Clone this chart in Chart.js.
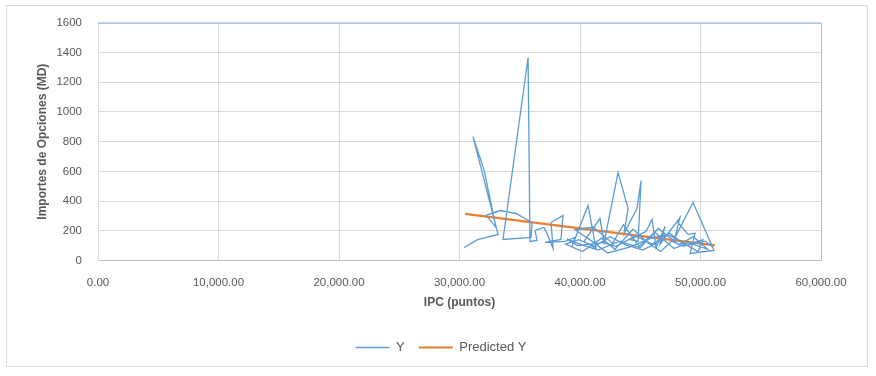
<!DOCTYPE html>
<html>
<head>
<meta charset="utf-8">
<script src="https://cdn.jsdelivr.net/npm/chart.js@4"></script>
<style>
  html, body { margin: 0; padding: 0; background: #fff; }
  #wrap { position: relative; width: 876px; height: 376px; }
  #frame { position: absolute; left: 6px; top: 5px; width: 862px; height: 362px; border: 1px solid #d9d9d9; box-sizing: border-box; }
  canvas { position: absolute; left: 0; top: 0; }
</style>
</head>
<body>
<div id="wrap">
  <div id="frame"></div>
  <canvas id="chart" width="876" height="376"></canvas>
</div>
<script>
// IPC (puntos) vs Importes de Opciones (MD), in data order
const ipcValues = [
  30380, 31500, 33200, 31120, 32030, 33030, 32200, 33360, 34690, 36020,
  35930, 33610, 35690, 35850, 36430, 36270, 37010, 37260, 37760, 37600,
  38590, 38420, 37100, 38760, 39590, 39340, 40670, 41330, 40330, 41660,
  42000, 43160, 43990, 43650, 44730, 45070, 44820, 44150, 45480, 45980,
  46310, 47060, 46640, 48300, 47890, 49380, 51120, 49130, 49550, 48970,
  48050, 46900, 45200, 43800, 42500, 41200, 39900, 38800, 40200, 41800,
  42900, 44400, 45600, 46700, 47600, 48600, 50200, 49800, 47300, 45900,
  44100, 42300, 40900, 39600, 41100, 42700, 43600, 44900, 46200, 47800,
  49000, 50600, 49400, 48200, 46500, 45000, 43300, 41500, 40000, 38900,
  39800, 41900, 43000, 44600, 46000, 47400, 48800, 50400, 51000
];
const importes = [
  87, 140, 175, 834, 612, 222, 303, 336, 316, 255,
  155, 141, 1365, 128, 134, 202, 222, 182, 81, 255,
  303, 141, 121, 128, 155, 94, 370, 81, 128, 282,
  121, 592, 350, 182, 350, 538, 128, 141, 195, 276,
  87, 229, 108, 289, 155, 390, 67, 47, 182, 175,
  262, 140, 70, 105, 160, 95, 140, 110, 60, 150,
  75, 210, 120, 60, 130, 95, 140, 60, 175, 150,
  90, 50, 135, 205, 225, 115, 240, 95, 190, 80,
  120, 75, 160, 105, 215, 85, 130, 70, 110, 145,
  100, 120, 95, 165, 110, 185, 100, 130, 90
];
// regression line read at its ends
const predictedX = [30460, 51200];
const predictedY = [314, 101];

const xTicks = [0, 10000, 20000, 30000, 40000, 50000, 60000];
const yTicks = [0, 200, 400, 600, 800, 1000, 1200, 1400, 1600];

const FONT = "'Liberation Sans', Arial, sans-serif";
const GREY = '#595959';

const seriesY = ipcValues.map((x, i) => ({ x: x, y: importes[i] }));
const seriesPred = predictedX.map((x, i) => ({ x: x, y: predictedY[i] }));

// light border on top and right edge of the plot area
const plotBorder = {
  id: 'plotBorder',
  afterLayout(chart) {
    // legend sits a bit right of the plot centre in the original
    chart.legend.left += 13;
    chart.legend.right += 13;
  },
  afterDraw(chart) {
    const a = chart.chartArea;
    const ctx = chart.ctx;
    ctx.save();
    ctx.strokeStyle = '#9dc3e6';
    ctx.lineWidth = 1;
    ctx.beginPath();
    ctx.moveTo(a.left, a.top + 0.5);
    ctx.lineTo(a.right + 0.5, a.top + 0.5);
    ctx.lineTo(a.right + 0.5, a.bottom);
    ctx.stroke();
    ctx.restore();
  }
};

new Chart(document.getElementById('chart').getContext('2d'), {
  type: 'scatter',
  data: {
    datasets: [
      {
        label: 'Y',
        data: seriesY,
        showLine: true,
        borderColor: '#5b9bd5',
        backgroundColor: '#5b9bd5',
        borderWidth: 1.3,
        pointRadius: 0,
        tension: 0
      },
      {
        label: 'Predicted Y',
        data: seriesPred,
        showLine: true,
        borderColor: '#ed7d31',
        backgroundColor: '#ed7d31',
        borderWidth: 2.2,
        pointRadius: 0
      }
    ]
  },
  plugins: [plotBorder],
  options: {
    responsive: false,
    animation: false,
    layout: { padding: { top: 13, right: 55, bottom: 12, left: 35 } },
    plugins: {
      tooltip: { enabled: false },
      legend: {
        position: 'bottom',
        // empty title only used as spacer above the legend items
        title: { display: true, text: '', font: { size: 2 }, padding: 3 },
        labels: {
          usePointStyle: true,
          pointStyle: 'line',
          pointStyleWidth: 34,
          color: GREY,
          font: { family: FONT, size: 13 },
          padding: 14
        }
      }
    },
    scales: {
      x: {
        type: 'linear',
        min: 0,
        max: 60000,
        afterBuildTicks: (axis) => { axis.ticks = xTicks.map(v => ({ value: v })); },
        ticks: {
          color: GREY,
          font: { family: FONT, size: 11.5 },
          maxRotation: 0,
          padding: 16,
          callback: (v) => v.toLocaleString('en-US', { minimumFractionDigits: 2, maximumFractionDigits: 2 })
        },
        grid: { color: '#d9d9d9', drawTicks: false },
        border: { color: '#bfbfbf' },
        title: {
          display: true,
          text: 'IPC (puntos)',
          color: GREY,
          font: { family: FONT, size: 12, weight: 'bold' },
          padding: { top: -11, bottom: 9 }
        }
      },
      y: {
        type: 'linear',
        min: 0,
        max: 1600,
        afterBuildTicks: (axis) => { axis.ticks = yTicks.map(v => ({ value: v })); },
        afterFit: (axis) => { axis.width = 63; },
        ticks: {
          color: GREY,
          font: { family: FONT, size: 11.5 },
          padding: 16,
          callback: (v) => String(v)
        },
        grid: { color: '#d9d9d9', drawTicks: false },
        border: { color: '#d9d9d9' },
        title: {
          display: true,
          text: 'Importes de Opciones (MD)',
          color: GREY,
          font: { family: FONT, size: 12, weight: 'bold' },
          padding: { top: 0, bottom: 10 }
        }
      }
    }
  }
});
</script>
</body>
</html>
